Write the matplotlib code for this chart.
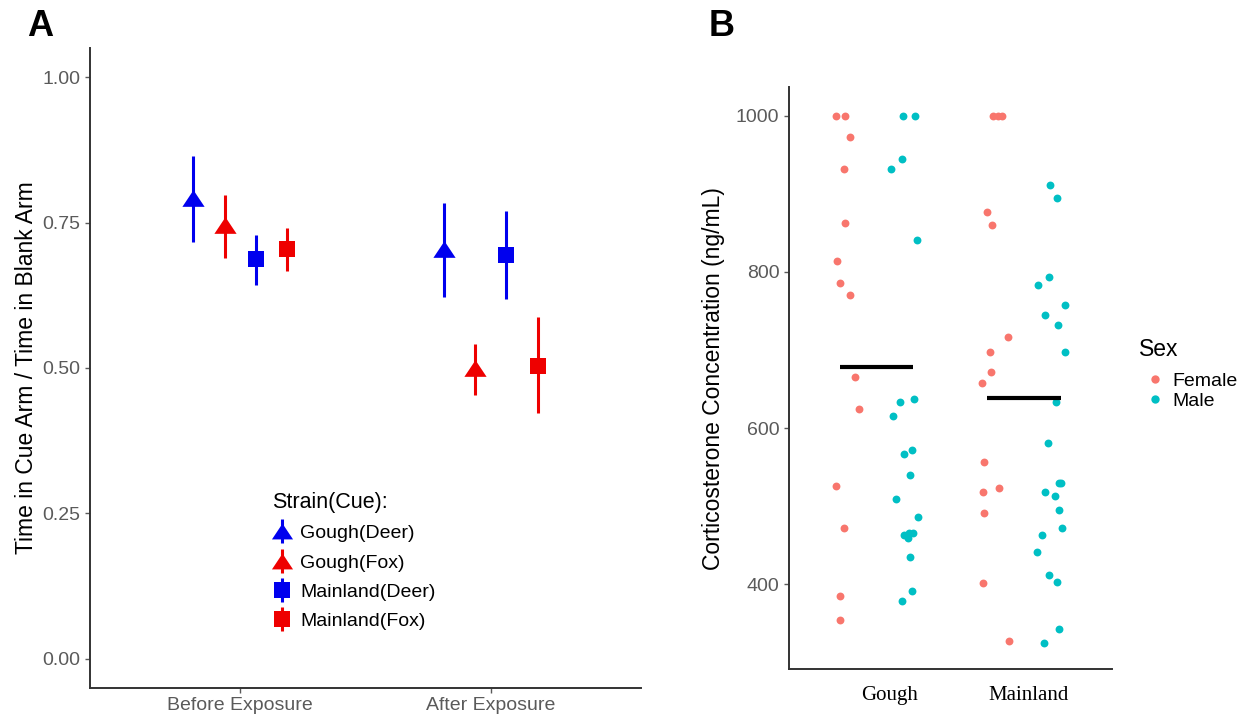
import matplotlib
matplotlib.use("Agg")
import matplotlib.pyplot as plt
import numpy as np
from matplotlib.lines import Line2D

plt.rcParams['font.family'] = ['Liberation Sans', 'DejaVu Sans']

# ---------------- Panel A data ----------------
exposures = ["Before Exposure", "After Exposure"]
groups_a = ["Gough(Deer)", "Gough(Fox)", "Mainland(Deer)", "Mainland(Fox)"]
means_a = {
    "Gough(Deer)":    [0.793, 0.704],
    "Gough(Fox)":     [0.746, 0.500],
    "Mainland(Deer)": [0.687, 0.694],
    "Mainland(Fox)":  [0.704, 0.504],
}
lower_a = {
    "Gough(Deer)":    [0.716, 0.622],
    "Gough(Fox)":     [0.689, 0.453],
    "Mainland(Deer)": [0.643, 0.618],
    "Mainland(Fox)":  [0.667, 0.423],
}
upper_a = {
    "Gough(Deer)":    [0.864, 0.783],
    "Gough(Fox)":     [0.798, 0.541],
    "Mainland(Deer)": [0.728, 0.769],
    "Mainland(Fox)":  [0.740, 0.588],
}
yticks_a = [0.00, 0.25, 0.50, 0.75, 1.00]

# ---------------- Panel B data ----------------
strains_b = ["Gough", "Mainland"]
sexes = ["Female", "Male"]
gough_female_x = [0.724, 0.781, 0.815, 0.776, 0.783, 0.731, 0.753, 0.817, 0.849, 0.877, 0.724, 0.776, 0.753, 0.753]
gough_female_y = [1000, 1000, 973, 932, 862.6, 814, 786, 771, 666, 625, 525.5, 471.7, 384.6, 354.7]
gough_male_x = [1.18, 1.26, 1.169, 1.098, 1.276, 1.16, 1.251, 1.114, 1.187, 1.242, 1.228, 1.132, 1.279,
                1.187, 1.221, 1.245, 1.21, 1.224, 1.242, 1.169]
gough_male_y = [1000, 1000, 944.6, 931.4, 841, 633.8, 637.3, 615, 566.8, 572, 540, 508.8, 486.6,
                463.1, 465.3, 466.1, 459, 435, 391.4, 378.6]
mainland_female_x = [1.792, 1.822, 1.849, 1.747, 1.786, 1.895, 1.772, 1.776, 1.717, 1.731, 1.726, 1.831,
                     1.731, 1.724, 1.902]
mainland_female_y = [1000, 1000, 1000, 876.3, 859.7, 716.3, 697.5, 672.2, 657.4, 557, 518.6, 523.3,
                     491.7, 401.7, 327.8]
mainland_male_x = [2.18, 2.226, 2.171, 2.10, 2.281, 2.144, 2.233, 2.283, 2.219, 2.162, 2.238, 2.256,
                   2.142, 2.214, 2.242, 2.26, 2.123, 2.089, 2.171, 2.226, 2.242, 2.135]
mainland_male_y = [911.3, 894.6, 793, 782.8, 757.6, 744.4, 732.4, 697.4, 633.8, 580.5, 529.7, 529.7,
                   518.6, 513.5, 495, 471.7, 463.5, 441.7, 411.9, 403.3, 343.2, 324.4]
group_means_b = [678, 639]
yticks_b = [400, 600, 800, 1000]

# ---------------- styles ----------------
W, H = 1251, 719
fig = plt.figure(figsize=(W / 100, H / 100), dpi=100)
tick_gray = '#5a5a5a'
axis_col = '#333333'

tri = [(-1, -0.75), (1, -0.75), (0, 0.75), (-1, -0.75)]
style_a = {
    "Gough(Deer)":    dict(color='#0000ee', marker=tri, ms=16),
    "Gough(Fox)":     dict(color='#ee0000', marker=tri, ms=16),
    "Mainland(Deer)": dict(color='#0000ee', marker='s', ms=12),
    "Mainland(Fox)":  dict(color='#ee0000', marker='s', ms=12),
}

# ---------------- Panel A ----------------
axA = fig.add_axes([90 / W, 1 - 688 / H, 551 / W, 640 / H])
offsets = [-0.1875, -0.0625, 0.0625, 0.1875]
xpos = np.arange(1, len(exposures) + 1)
for g, off in zip(groups_a, offsets):
    m = np.array(means_a[g])
    lo = m - np.array(lower_a[g])
    hi = np.array(upper_a[g]) - m
    st = style_a[g]
    axA.errorbar(xpos + off, m, yerr=[lo, hi], fmt='none', ecolor=st['color'],
                 elinewidth=2.2, capsize=0)
    axA.plot(xpos + off, m, linestyle='none', marker=st['marker'], ms=st['ms'],
             color=st['color'], markeredgewidth=0)

axA.set_xlim(0.4, 2.6)
axA.set_ylim(-0.05, 1.05)
axA.set_xticks(xpos)
axA.set_xticklabels(exposures)
axA.set_yticks(yticks_a)
axA.set_yticklabels([f"{v:.2f}" for v in yticks_a])
axA.tick_params(axis='both', colors=tick_gray, labelsize=14, length=3.5, width=1, pad=3)
axA.tick_params(axis='y', pad=3.5)
for s in ['top', 'right']:
    axA.spines[s].set_visible(False)
for s in ['left', 'bottom']:
    axA.spines[s].set_color(axis_col)
    axA.spines[s].set_linewidth(1.4)
axA.set_ylabel("Time in Cue Arm / Time in Blank Arm", fontsize=16.5, color='black')
axA.yaxis.set_label_coords(-0.094, 0.5)

leg_handles = []
for g in groups_a:
    st = style_a[g]
    vline = Line2D([0], [0], linestyle='none', marker='|', ms=17, markeredgewidth=2.2, color=st['color'])
    mk = Line2D([0], [0], linestyle='none', marker=st['marker'], ms=st['ms'] * 0.95,
                color=st['color'], markeredgewidth=0)
    leg_handles.append((vline, mk))
legA = axA.legend(leg_handles, groups_a, title="Strain(Cue):", loc='upper left',
                  bbox_to_anchor=(272 / W, 1 - 492 / H), bbox_transform=fig.transFigure,
                  frameon=False, fontsize=14, title_fontsize=15.5, handlelength=1.0,
                  handletextpad=0.45, labelspacing=0.6, borderaxespad=0, borderpad=0)
legA._legend_box.align = "left"

fig.text(40 / W, 1 - 27 / H, "A", fontsize=26, fontweight='bold', ha='center', va='center')

# ---------------- Panel B ----------------
axB = fig.add_axes([788.5 / W, 1 - 669 / H, 323.5 / W, 581.7 / H])
female_col = '#F8766D'
male_col = '#00BFC4'
pt_size = 32
axB.scatter(gough_female_x, gough_female_y, s=pt_size, color=female_col, linewidths=0, zorder=3)
axB.scatter(mainland_female_x, mainland_female_y, s=pt_size, color=female_col, linewidths=0, zorder=3)
axB.scatter(gough_male_x, gough_male_y, s=pt_size, color=male_col, linewidths=0, zorder=3)
axB.scatter(mainland_male_x, mainland_male_y, s=pt_size, color=male_col, linewidths=0, zorder=3)
for i, mval in enumerate(group_means_b):
    axB.hlines(mval, i + 1 - 0.25, i + 1 + 0.25, color='black', linewidth=3, zorder=4)

axB.set_xlim(0.4, 2.6)
axB.set_ylim(291.5, 1036.4)
axB.set_yticks(yticks_b)
axB.set_yticklabels([str(v) for v in yticks_b])
axB.set_xticks([1.09, 2.03])
axB.set_xticklabels(strains_b, fontfamily=['Liberation Serif'], fontsize=15, color='black')
axB.tick_params(axis='x', length=0, pad=12)
axB.tick_params(axis='y', colors=tick_gray, labelsize=14, length=3.5, width=1, pad=3)
for s in ['top', 'right']:
    axB.spines[s].set_visible(False)
for s in ['left', 'bottom']:
    axB.spines[s].set_color(axis_col)
    axB.spines[s].set_linewidth(1.4)
axB.set_ylabel("Corticosterone Concentration (ng/mL)", fontsize=16.5, color='black')
axB.yaxis.set_label_coords(-0.195, 0.5)

legB_handles = [Line2D([0], [0], linestyle='none', marker='o', ms=6, color=c, markeredgewidth=0)
                for c in [female_col, male_col]]
legB = axB.legend(legB_handles, sexes, loc='upper left',
                  bbox_to_anchor=(1145 / W, 1 - 372 / H), bbox_transform=fig.transFigure,
                  frameon=False, fontsize=14, handlelength=1.0,
                  handletextpad=0.4, labelspacing=0.12, borderaxespad=0, borderpad=0)
fig.text(1139 / W, 1 - 349 / H, "Sex", fontsize=16.5, ha='left', va='center')

fig.text(722 / W, 1 - 27 / H, "B", fontsize=26, fontweight='bold', ha='center', va='center')

fig.savefig("out.png", dpi=100)
